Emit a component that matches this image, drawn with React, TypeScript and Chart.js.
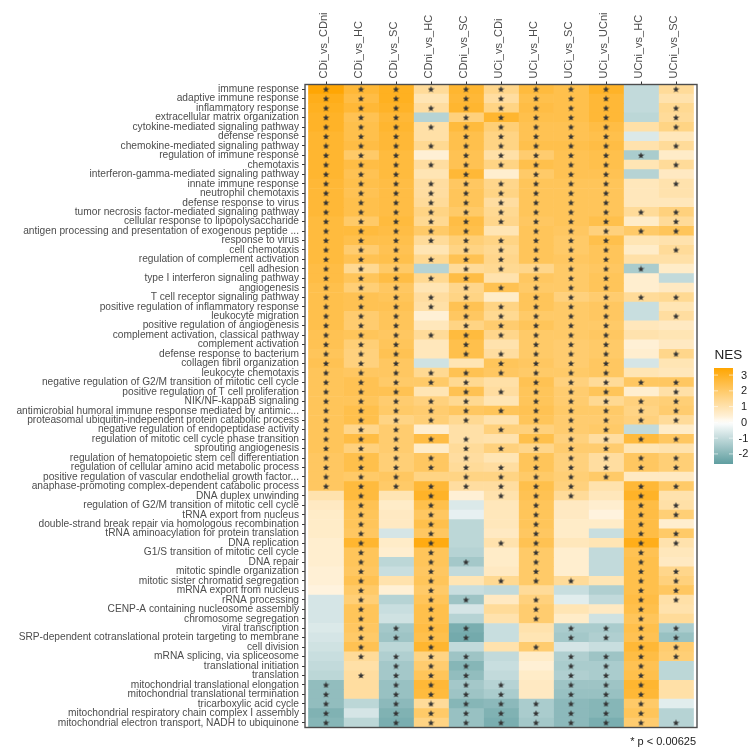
import React, { useEffect, useRef } from "react";
import { Chart, registerables } from "chart.js";

Chart.register(...registerables);

const comparisons = ["CDi_vs_CDni","CDi_vs_HC","CDi_vs_SC","CDni_vs_HC","CDni_vs_SC","UCi_vs_CDi","UCi_vs_HC","UCi_vs_SC","UCi_vs_UCni","UCni_vs_HC","UCni_vs_SC"];

const terms = [
"immune response","adaptive immune response","inflammatory response","extracellular matrix organization","cytokine-mediated signaling pathway","defense response","chemokine-mediated signaling pathway","regulation of immune response","chemotaxis","interferon-gamma-mediated signaling pathway","innate immune response","neutrophil chemotaxis","defense response to virus","tumor necrosis factor-mediated signaling pathway","cellular response to lipopolysaccharide","antigen processing and presentation of exogenous peptide ...","response to virus","cell chemotaxis","regulation of complement activation","cell adhesion","type I interferon signaling pathway","angiogenesis","T cell receptor signaling pathway","positive regulation of inflammatory response","leukocyte migration","positive regulation of angiogenesis","complement activation, classical pathway","complement activation","defense response to bacterium","collagen fibril organization","leukocyte chemotaxis","negative regulation of G2/M transition of mitotic cell cycle","positive regulation of T cell proliferation","NIK/NF-kappaB signaling","antimicrobial humoral immune response mediated by antimic...","proteasomal ubiquitin-independent protein catabolic process","negative regulation of endopeptidase activity","regulation of mitotic cell cycle phase transition","sprouting angiogenesis","regulation of hematopoietic stem cell differentiation","regulation of cellular amino acid metabolic process","positive regulation of vascular endothelial growth factor...","anaphase-promoting complex-dependent catabolic process","DNA duplex unwinding","regulation of G2/M transition of mitotic cell cycle","tRNA export from nucleus","double-strand break repair via homologous recombination","tRNA aminoacylation for protein translation","DNA replication","G1/S transition of mitotic cell cycle","DNA repair","mitotic spindle organization","mitotic sister chromatid segregation","mRNA export from nucleus","rRNA processing","CENP-A containing nucleosome assembly","chromosome segregation","viral transcription","SRP-dependent cotranslational protein targeting to membrane","cell division","mRNA splicing, via spliceosome","translational initiation","translation","mitochondrial translational elongation","mitochondrial translational termination","tricarboxylic acid cycle","mitochondrial respiratory chain complex I assembly","mitochondrial electron transport, NADH to ubiquinone"];

const nes = [
[3.4,2.7,3.0,1.3,2.8,1.5,2.6,2.4,2.9,-1.0,1.3],
[3.1,2.5,3.0,0.9,2.7,1.2,2.4,2.4,2.7,-1.0,1.0],
[3.0,2.7,2.9,1.2,2.8,1.6,2.5,2.4,2.7,-1.0,1.4],
[2.9,2.3,2.7,-1.2,1.7,2.8,2.4,2.4,2.7,-1.1,1.3],
[2.9,2.4,2.8,1.1,2.6,1.8,2.3,2.3,2.5,1.1,1.6],
[2.8,2.4,2.7,1.1,2.4,1.6,2.3,2.3,2.4,-0.6,0.8],
[2.8,2.5,2.7,1.4,2.4,1.6,2.4,2.4,2.5,1.0,1.3],
[2.8,2.0,2.6,0.4,2.3,1.1,1.9,2.3,2.4,-1.4,0.6],
[2.8,2.5,2.6,1.2,2.3,1.6,2.4,2.3,2.4,0.9,1.3],
[2.8,2.3,2.6,0.9,2.7,0.5,2.0,2.3,2.3,-1.2,0.7],
[2.7,2.4,2.5,1.2,2.1,1.5,2.2,2.2,2.2,0.8,1.0],
[2.7,2.3,2.5,1.2,2.2,1.6,2.2,2.2,2.2,0.8,1.0],
[2.7,2.4,2.5,1.3,2.2,1.2,2.2,2.2,2.2,0.8,0.8],
[2.7,2.4,2.5,1.6,2.0,1.4,2.2,2.2,2.2,1.3,1.7],
[2.6,2.0,2.6,1.4,2.5,1.5,2.1,2.2,2.4,0.6,1.3],
[2.6,2.6,2.5,2.0,2.4,0.9,2.2,2.1,1.7,2.0,2.2],
[2.6,2.4,2.4,1.3,1.8,1.6,2.2,2.0,2.4,0.9,1.0],
[2.6,1.9,2.3,0.9,1.6,1.4,2.2,2.0,2.2,0.6,1.3],
[2.6,2.3,2.4,1.4,2.3,1.5,2.2,2.1,2.2,1.1,1.1],
[2.5,1.4,2.0,-1.2,1.3,1.4,1.5,2.0,2.1,-1.4,0.6],
[2.5,2.2,2.5,1.4,2.5,1.0,2.1,2.0,2.2,0.5,-1.0],
[2.4,1.8,2.1,0.9,1.5,2.3,2.0,2.0,2.2,0.5,0.7],
[2.4,2.3,2.2,1.2,1.6,0.6,2.2,1.7,1.9,1.3,1.4],
[2.4,2.3,2.3,1.1,2.3,1.6,2.2,2.0,2.1,-0.9,0.9],
[2.4,1.9,2.2,0.4,2.1,1.4,2.0,2.0,2.1,-0.9,1.2],
[2.4,1.9,2.2,0.8,1.6,1.9,2.2,2.0,2.0,0.8,0.7],
[2.3,2.2,2.1,1.3,2.6,1.5,2.0,2.0,2.1,1.0,0.9],
[2.3,1.8,2.2,0.8,2.4,1.0,2.0,1.9,2.0,0.4,0.7],
[2.2,1.7,2.3,0.8,2.4,1.2,2.0,1.9,2.0,0.5,1.5],
[2.3,1.7,2.1,-0.8,0.9,2.2,2.1,1.9,2.1,-0.7,0.9],
[2.2,2.1,2.1,1.4,2.3,2.1,2.0,2.0,2.1,0.9,0.8],
[2.2,2.3,2.0,2.0,1.4,1.1,2.3,1.7,1.3,2.1,2.1],
[2.2,2.3,2.3,0.9,2.3,1.2,2.2,1.9,2.2,0.5,1.1],
[2.2,2.2,1.9,1.7,1.4,0.9,2.2,1.9,1.4,1.7,1.8],
[2.2,2.4,2.0,1.9,2.1,2.2,2.3,2.0,2.0,1.6,1.9],
[2.2,2.4,1.6,1.8,1.4,1.0,2.2,1.9,1.9,1.7,1.3],
[2.2,1.5,1.9,0.5,1.1,1.7,1.7,1.9,2.0,-1.0,0.6],
[2.2,2.5,1.9,2.5,1.1,1.0,2.4,1.7,1.2,2.6,2.1],
[2.2,1.7,1.9,0.6,1.3,1.7,1.5,1.9,1.9,0.9,1.0],
[2.1,2.4,1.8,2.1,1.2,0.9,2.2,1.7,1.2,2.1,1.8],
[2.1,2.4,1.8,2.1,1.3,1.2,2.2,1.7,1.2,2.1,1.8],
[2.1,2.0,2.1,1.6,1.6,1.6,2.0,1.8,2.0,0.7,0.7],
[2.1,2.6,2.0,2.7,1.2,1.2,2.4,1.7,1.0,2.7,2.0],
[1.0,2.6,0.9,2.9,0.4,1.0,2.3,1.3,0.8,2.9,1.0],
[0.7,2.3,0.6,2.4,-0.6,0.8,2.2,0.7,0.5,2.5,1.1],
[0.6,2.2,0.7,2.1,-0.4,0.8,2.2,0.7,0.3,2.5,1.8],
[0.6,2.2,0.7,2.4,-1.1,0.8,2.2,0.6,0.6,2.5,0.5],
[0.6,2.1,-0.7,2.1,-1.1,0.7,2.1,0.6,-0.9,2.5,2.0],
[0.5,2.8,0.6,3.2,-1.1,1.0,2.3,0.8,0.9,3.1,1.0],
[0.5,2.2,0.5,2.2,-1.2,0.6,2.0,0.5,-1.0,2.3,0.8],
[0.5,2.2,-1.1,2.2,-1.5,0.6,2.0,0.5,-1.0,2.4,0.7],
[0.4,2.1,-0.9,2.1,-1.0,0.7,2.0,0.5,-1.0,2.4,1.5],
[0.4,2.3,1.0,2.2,0.9,1.4,2.0,1.3,0.9,2.4,1.7],
[0.3,2.0,0.4,2.0,-0.9,-1.0,1.3,-0.9,-1.3,2.4,2.1],
[-0.7,1.8,-1.2,2.2,-1.6,0.7,1.7,-0.5,-1.0,2.5,1.1],
[-0.7,2.2,-0.9,2.4,-0.7,1.3,1.9,0.9,0.7,2.4,1.0],
[-0.7,2.2,-0.8,2.4,-1.2,1.0,1.9,0.6,-0.8,2.2,1.3],
[-0.6,2.1,-1.5,2.5,-2.2,-0.9,1.0,-1.4,-1.4,2.4,-1.4],
[-0.7,2.0,-1.6,2.4,-2.3,-0.9,0.9,-1.5,-1.3,2.3,-1.7],
[-0.8,2.3,-1.1,2.8,-1.0,1.0,1.9,-0.7,-0.9,2.7,1.9],
[-0.9,1.3,-1.3,1.6,-1.6,-1.0,0.6,-1.3,-1.6,2.5,1.8],
[-1.0,1.1,-1.5,1.9,-2.0,-0.9,0.4,-1.4,-1.4,2.3,-1.1],
[-1.1,1.2,-1.5,2.2,-1.8,-1.0,0.6,-1.3,-1.4,2.4,-1.1],
[-1.8,1.2,-1.7,2.7,-1.5,-1.2,0.7,-1.6,-1.6,2.8,1.1],
[-1.8,1.2,-1.7,2.6,-1.6,-1.4,0.7,-1.7,-1.7,2.7,1.1],
[-1.8,-1.1,-1.9,1.3,-2.0,-1.9,-1.4,-1.9,-2.0,2.0,-0.5],
[-2.1,-0.7,-2.1,2.0,-1.7,-2.1,-1.4,-1.9,-2.0,2.2,-1.2],
[-2.0,-1.1,-2.2,1.6,-1.7,-2.2,-1.5,-1.9,-2.2,1.9,-1.2],
];

const significant = [
"11111111101","11101111100","11111111101","11101111101","11111111101","11101111100","11111111101","11101111110","11111111101","11101011100",
"11111111101","11111111100","11111111100","11111111111","11111111101","11111011111","11111111100","11101111101","11111111100","11101111110",
"11111011100","11101111100","11111011111","11111111100","11101111101","11101111100","11111111100","11101011100","11101111101","11100111100",
"11111111100","11111011111","11101111101","11111011111","11111111111","11111011111","11100111100","11111011111","11101111100","11111011111",
"11111111111","11101111100","11111111011","01010111010","01010010011","01010010011","01010010010","01010010011","01010110011","01010010010",
"01011010010","01010010011","01010111011","01010000011","01011010011","01010010010","01010010010","01111001111","01111001111","01010010011",
"01111001111","00111001110","01111001110","10111101110","10111101110","10111111110","10111111110","10111111111",
];

const legendTicks = [3, 2, 1, 0, -1, -2];
const legendMax = 3.45;
const legendMin = -2.64;
const FONT = "'Liberation Sans', Arial, sans-serif";

function nesColor(v: number): string {
  let t = v >= 0 ? Math.min(1, v / legendMax) : Math.min(1, -v / -legendMin);
  if (v > 0) t = t + 0.06 * (1 - t) * (1 - t) * Math.min(1, t / 0.1);
  const c = v >= 0 ? [255, 165, 0] : [95, 158, 160];
  const mix = (i: number) => Math.round(255 + (c[i] - 255) * t);
  return `rgb(${mix(0)},${mix(1)},${mix(2)})`;
}

function starCanvas(): HTMLCanvasElement {
  const c = document.createElement("canvas");
  c.width = 7;
  c.height = 7;
  const g = c.getContext("2d")!;
  g.fillStyle = "#333333";
  g.beginPath();
  for (let i = 0; i < 10; i++) {
    const r = i % 2 === 0 ? 3.4 : 1.5;
    const a = -Math.PI / 2 + (i * Math.PI) / 5;
    const x = 3.5 + r * Math.cos(a);
    const y = 3.7 + r * Math.sin(a);
    i === 0 ? g.moveTo(x, y) : g.lineTo(x, y);
  }
  g.closePath();
  g.fill();
  return c;
}

const decorations = {
  id: "decorations",
  afterDatasetsDraw(chart: any) {
    const { ctx, chartArea: a } = chart;
    ctx.save();
    ctx.strokeStyle = "#4d4d4d";
    ctx.lineWidth = 1.4;
    ctx.strokeRect(a.left, a.top, a.right - a.left, a.bottom - a.top);

    const bx = 714, bw = 19, by = 368, bh = 96;
    const yOf = (v: number) => by + ((legendMax - v) / (legendMax - legendMin)) * bh;
    const grad = ctx.createLinearGradient(0, by, 0, by + bh);
    for (let i = 0; i <= 24; i++) {
      grad.addColorStop(i / 24, nesColor(legendMax - (i / 24) * (legendMax - legendMin)));
    }
    ctx.fillStyle = grad;
    ctx.fillRect(bx, by, bw, bh);
    ctx.strokeStyle = "#ffffff";
    ctx.lineWidth = 0.6;
    ctx.fillStyle = "#222222";
    ctx.font = `11px ${FONT}`;
    ctx.textAlign = "left";
    ctx.textBaseline = "middle";
    legendTicks.forEach((v) => {
      const y = yOf(v);
      ctx.beginPath();
      ctx.moveTo(bx, y); ctx.lineTo(bx + 4, y);
      ctx.moveTo(bx + bw - 4, y); ctx.lineTo(bx + bw, y);
      ctx.stroke();
      ctx.fillText(String(v), v < 0 ? 738.5 : 741, y + 0.5);
    });
    ctx.font = `13.5px ${FONT}`;
    ctx.fillText("NES", 714.5, 355);
    ctx.font = `11px ${FONT}`;
    ctx.textAlign = "right";
    ctx.fillText("* p < 0.00625", 696, 742);
    ctx.restore();
  },
};

export default function App() {
  const ref = useRef<HTMLCanvasElement>(null);
  useEffect(() => {
    const star = starCanvas();
    const cells = comparisons.map((name, j) => ({
      type: "bar",
      label: name,
      order: 1,
      grouped: false,
      barPercentage: 1,
      categoryPercentage: 1,
      borderWidth: 0,
      data: terms.map((term) => ({ x: [j, j + 1], y: term })),
      backgroundColor: nes.map((row) => nesColor(row[j])),
    }));
    const stars = {
      type: "scatter",
      label: "p < 0.00625",
      order: 0,
      pointStyle: star,
      pointRadius: 3,
      data: significant.flatMap((row, i) =>
        comparisons.flatMap((_, j) => (row[j] === "1" ? [{ x: j + 0.5, y: terms[i] }] : []))
      ),
    };
    const chart = new Chart(ref.current!, {
      type: "bar",
      data: { labels: terms, datasets: [...cells, stars] as any },
      options: {
        animation: false,
        responsive: false,
        indexAxis: "y",
        layout: { padding: { left: 0, top: 0, right: 56, bottom: 25.5 } },
        plugins: { legend: { display: false }, tooltip: { enabled: false } },
        scales: {
          x: {
            type: "linear",
            position: "top",
            min: -0.1,
            max: 11.1,
            afterBuildTicks: (s: any) => { s.ticks = comparisons.map((_, i) => ({ value: i + 0.5 })); },
            afterFit: (s: any) => { s.height = 84.5; },
            ticks: {
              autoSkip: false,
              minRotation: 90,
              maxRotation: 90,
              padding: 3,
              labelOffset: 11.5,
              color: "#4d4d4d",
              font: { family: FONT, size: 11 },
              callback: (_v: any, i: number) => comparisons[i],
            },
            grid: { drawOnChartArea: false, tickLength: 3, color: "#333333" },
            border: { display: false },
          },
          y: {
            type: "category",
            afterFit: (s: any) => { s.width = 305; },
            ticks: {
              autoSkip: false,
              padding: 3,
              color: "#4d4d4d",
              font: { family: FONT, size: 10.2 },
            },
            grid: { offset: false, drawOnChartArea: false, tickLength: 3, color: "#333333" },
            border: { display: false },
          },
        },
      },
      plugins: [decorations],
    } as any);
    return () => chart.destroy();
  }, []);
  return (
    <canvas
      ref={ref}
      width={753}
      height={753}
      style={{ position: "fixed", left: 0, top: 0, width: 753, height: 753, display: "block", background: "#fff" }}
    />
  );
}
